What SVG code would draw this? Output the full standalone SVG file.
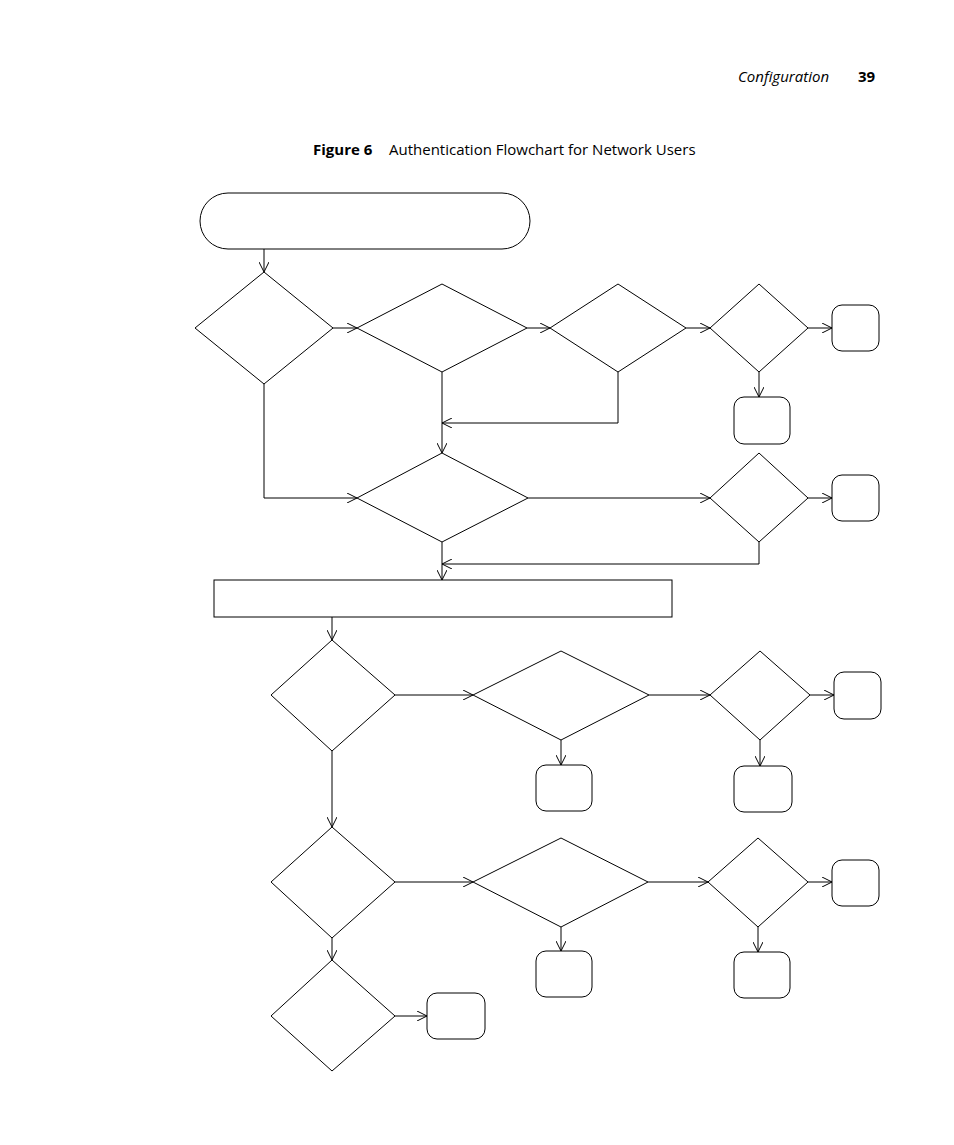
<svg xmlns="http://www.w3.org/2000/svg" width="954" height="1145" viewBox="0 0 954 1145">
<defs>
<marker id="a" viewBox="0 0 10 10" refX="10" refY="5" markerWidth="10" markerHeight="10" markerUnits="userSpaceOnUse" orient="auto"><polyline points="0,0 10,5 0,10" fill="none" stroke="#000" stroke-width="1"/></marker>
</defs>
<style>
.s{fill:#fff;stroke:#000;stroke-width:1}
.c{fill:none;stroke:#000;stroke-width:1;marker-end:url(#a)}
.t{font-family:"Open Sans","Liberation Sans",sans-serif;font-size:15px;fill:#000}
</style>
<rect width="954" height="1145" fill="#fff"/>
<text class="t" x="738" y="82" font-style="italic">Configuration</text>
<text class="t" x="858" y="82" font-weight="bold">39</text>
<text class="t" x="313" y="155"><tspan font-weight="bold">Figure 6</tspan><tspan x="389">Authentication Flowchart for Network Users</tspan></text>
<g id="start"><rect class="s" x="200" y="193" width="330" height="56" rx="28"/></g>
<g id="d1"><polygon class="s" points="264,272 333,328 264,384 195,328"/></g>
<g id="d2"><polygon class="s" points="442,284 527,328 442,372 357,328"/></g>
<g id="d3"><polygon class="s" points="618,284 686,328 618,372 550,328"/></g>
<g id="d4"><polygon class="s" points="759,284 808,328 759,372 710,328"/></g>
<g id="t1"><rect class="s" x="832" y="305" width="47" height="46" rx="10"/></g>
<g id="t2"><rect class="s" x="734" y="397" width="56" height="47" rx="10"/></g>
<g id="d5"><polygon class="s" points="442,453 528,498 442,542 357,498"/></g>
<g id="d6"><polygon class="s" points="759,453 808,498 759,542 710,498"/></g>
<g id="t3"><rect class="s" x="832" y="475" width="47" height="46" rx="10"/></g>
<g id="box"><rect class="s" x="214" y="580" width="458" height="37"/></g>
<g id="d7"><polygon class="s" points="332,640 395,695 332,751 271,695"/></g>
<g id="d8"><polygon class="s" points="561,651 649,695 561,740 473,695"/></g>
<g id="d9"><polygon class="s" points="760,651 810,695 760,740 710,695"/></g>
<g id="t4"><rect class="s" x="834" y="672" width="47" height="47" rx="10"/></g>
<g id="t5"><rect class="s" x="536" y="765" width="56" height="46" rx="10"/></g>
<g id="t6"><rect class="s" x="734" y="766" width="58" height="46" rx="10"/></g>
<g id="d10"><polygon class="s" points="332,827 395,882 332,938 271,882"/></g>
<g id="d11"><polygon class="s" points="561,838 648,882 561,927 473,882"/></g>
<g id="d12"><polygon class="s" points="758,838 808,882 758,927 708,882"/></g>
<g id="t7"><rect class="s" x="832" y="860" width="47" height="46" rx="10"/></g>
<g id="t8"><rect class="s" x="536" y="951" width="56" height="46" rx="10"/></g>
<g id="t9"><rect class="s" x="734" y="952" width="56" height="46" rx="10"/></g>
<g id="d13"><polygon class="s" points="332,960 395,1016 332,1071 271,1016"/></g>
<g id="t10"><rect class="s" x="427" y="993" width="58" height="46" rx="10"/></g>
<g id="connectors">
<path class="c" d="M264,249V272"/>
<path class="c" d="M333,328H357"/>
<path class="c" d="M527,328H550"/>
<path class="c" d="M686,328H710"/>
<path class="c" d="M808,328H832"/>
<path class="c" d="M759,372V397"/>
<path class="c" d="M442,372V453"/>
<path class="c" d="M618,372V423H442"/>
<path class="c" d="M264,384V498H357"/>
<path class="c" d="M528,498H710"/>
<path class="c" d="M808,498H832"/>
<path class="c" d="M759,542V564H442"/>
<path class="c" d="M442,542V580"/>
<path class="c" d="M332,617V640"/>
<path class="c" d="M395,695H473"/>
<path class="c" d="M649,695H710"/>
<path class="c" d="M810,695H834"/>
<path class="c" d="M561,740V765"/>
<path class="c" d="M760,740V766"/>
<path class="c" d="M332,751V827"/>
<path class="c" d="M395,882H473"/>
<path class="c" d="M648,882H708"/>
<path class="c" d="M808,882H832"/>
<path class="c" d="M561,927V951"/>
<path class="c" d="M758,927V952"/>
<path class="c" d="M332,938V960"/>
<path class="c" d="M395,1016H427"/>
</g>
</svg>
